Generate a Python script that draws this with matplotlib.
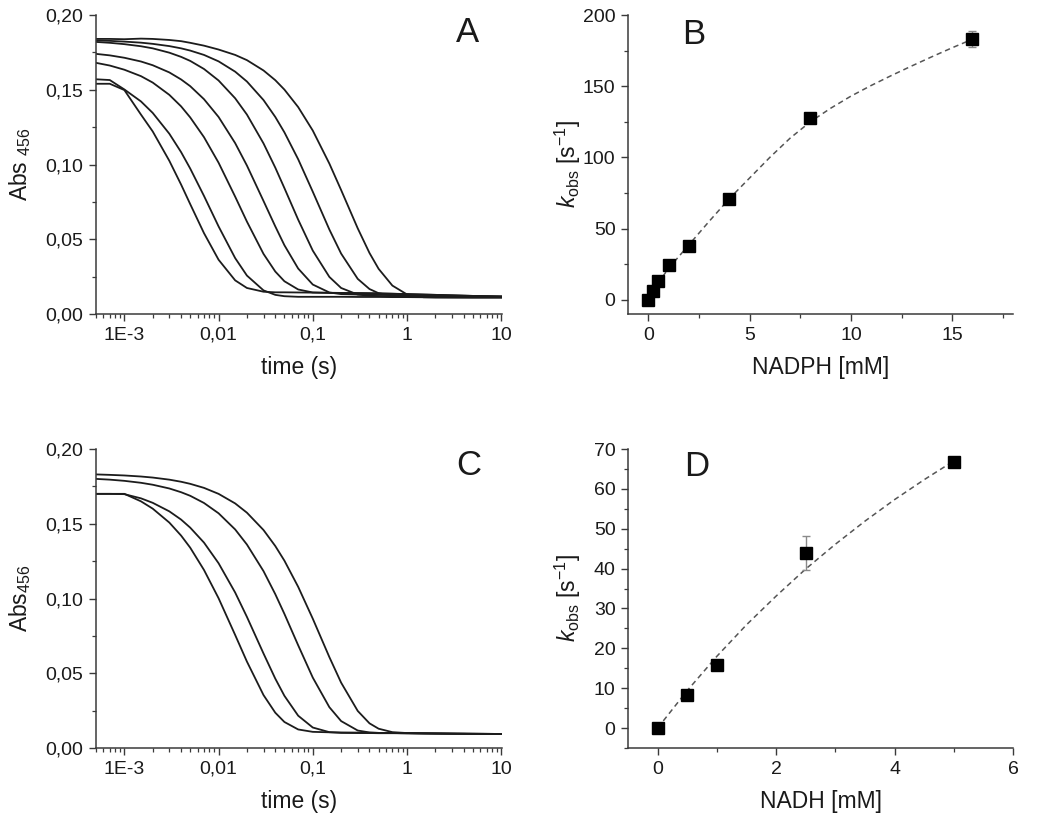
import numpy as np
import matplotlib
matplotlib.use("Agg")
import matplotlib.pyplot as plt
from matplotlib.ticker import FixedLocator, FixedFormatter, MultipleLocator, LogLocator, NullFormatter

# ----------------------------------------------------------
# fonts
# ----------------------------------------------------------
plt.rcParams['font.family'] = ['Liberation Sans', 'DejaVu Sans']
plt.rcParams['mathtext.fontset'] = 'custom'
plt.rcParams['mathtext.rm'] = 'Liberation Sans'
plt.rcParams['mathtext.it'] = 'Liberation Sans:italic'
plt.rcParams['mathtext.bf'] = 'Liberation Sans:bold'

# ----------------------------------------------------------
# data: stopped-flow traces (time in s, Abs456)
# ----------------------------------------------------------
time_s = [0.0005, 0.0007, 0.001, 0.0015, 0.002, 0.003, 0.004, 0.005, 0.007, 0.01,
          0.015, 0.02, 0.03, 0.04, 0.05, 0.07, 0.1, 0.15, 0.2, 0.3,
          0.4, 0.5, 0.7, 1.0, 1.5, 2.0, 3.0, 5.0, 10.0]

# panel A (NADPH), fastest -> slowest
nadph_trace_1 = [0.154, 0.154, 0.1498, 0.1334, 0.1221, 0.1025, 0.0866, 0.0735, 0.0541, 0.0363,
                 0.0225, 0.0174, 0.0149, 0.0145, 0.0145, 0.0144, 0.0143, 0.0142, 0.0141, 0.0140,
                 0.0139, 0.0138, 0.0136, 0.0133, 0.0130, 0.0128, 0.0125, 0.0121, 0.0117]
nadph_trace_2 = [0.157, 0.1565, 0.1502, 0.1422, 0.1345, 0.1206, 0.1083, 0.0973, 0.0790, 0.0586,
                 0.0374, 0.0257, 0.0158, 0.0128, 0.0119, 0.0115, 0.0115, 0.0115, 0.0115, 0.0114,
                 0.0114, 0.0114, 0.0113, 0.0113, 0.0112, 0.0112, 0.0111, 0.0110, 0.0110]
nadph_trace_3 = [0.168, 0.1662, 0.1634, 0.1591, 0.1548, 0.1466, 0.1389, 0.1315, 0.1183, 0.1012,
                 0.0785, 0.0618, 0.0402, 0.0284, 0.0219, 0.0164, 0.0144, 0.0141, 0.0140, 0.0139,
                 0.0138, 0.0137, 0.0135, 0.0133, 0.0130, 0.0128, 0.0125, 0.0121, 0.0117]
nadph_trace_4 = [0.174, 0.1730, 0.1714, 0.1689, 0.1664, 0.1616, 0.1569, 0.1524, 0.1437, 0.1318,
                 0.1143, 0.0993, 0.0756, 0.0586, 0.0460, 0.0304, 0.0197, 0.0144, 0.0133, 0.0130,
                 0.0129, 0.0128, 0.0127, 0.0125, 0.0123, 0.0122, 0.0120, 0.0118, 0.0116]
nadph_trace_5 = [0.182, 0.1814, 0.1805, 0.1791, 0.1777, 0.1748, 0.1720, 0.1693, 0.1639, 0.1562,
                 0.1443, 0.1334, 0.1141, 0.0979, 0.0842, 0.0631, 0.0424, 0.0248, 0.0174, 0.0130,
                 0.0122, 0.0120, 0.0119, 0.0119, 0.0118, 0.0118, 0.0117, 0.0116, 0.0115]
nadph_trace_6 = [0.183, 0.1827, 0.1822, 0.1815, 0.1807, 0.1792, 0.1777, 0.1762, 0.1733, 0.1690,
                 0.1621, 0.1555, 0.1431, 0.1318, 0.1215, 0.1035, 0.0818, 0.0565, 0.0404, 0.0235,
                 0.0167, 0.0139, 0.0123, 0.0120, 0.0119, 0.0118, 0.0117, 0.0116, 0.0115]
nadph_trace_7 = [0.184, 0.1840, 0.1838, 0.1842, 0.1840, 0.1833, 0.1825, 0.1814, 0.1795, 0.1769,
                 0.1733, 0.1698, 0.1629, 0.1564, 0.1501, 0.1384, 0.1227, 0.1006, 0.0829, 0.0573,
                 0.0408, 0.0302, 0.0190, 0.0131, 0.0112, 0.0110, 0.0110, 0.0110, 0.0110]

# panel C (NADH), fastest -> slowest
nadh_trace_1 = [0.170, 0.170, 0.170, 0.1650, 0.1601, 0.1508, 0.1421, 0.1340, 0.1191, 0.1002,
                0.0756, 0.0578, 0.0354, 0.0236, 0.0174, 0.0124, 0.0108, 0.0105, 0.0104, 0.0103,
                0.0102, 0.0101, 0.0100, 0.0099, 0.0098, 0.0097, 0.0096, 0.0095, 0.0094]
nadh_trace_2 = [0.170, 0.170, 0.1698, 0.1670, 0.1640, 0.1583, 0.1528, 0.1474, 0.1374, 0.1236,
                0.1040, 0.0877, 0.0632, 0.0464, 0.0349, 0.0216, 0.0137, 0.0106, 0.0101, 0.0100,
                0.0100, 0.0099, 0.0099, 0.0098, 0.0097, 0.0097, 0.0096, 0.0095, 0.0094]
nadh_trace_3 = [0.180, 0.1795, 0.1787, 0.1774, 0.1761, 0.1736, 0.1711, 0.1687, 0.1639, 0.1570,
                0.1462, 0.1361, 0.1183, 0.1029, 0.0897, 0.0687, 0.0471, 0.0273, 0.0180, 0.0117,
                0.0104, 0.0101, 0.0100, 0.0099, 0.0098, 0.0097, 0.0096, 0.0095, 0.0094]
nadh_trace_4 = [0.183, 0.1827, 0.1823, 0.1816, 0.1809, 0.1795, 0.1781, 0.1767, 0.1740, 0.1700,
                0.1636, 0.1574, 0.1458, 0.1351, 0.1253, 0.1078, 0.0865, 0.0608, 0.0437, 0.0248,
                0.0165, 0.0129, 0.0106, 0.0100, 0.0098, 0.0097, 0.0096, 0.0095, 0.0094]

# panel B: kobs vs NADPH
nadph_mM = [0, 0.25, 0.5, 1, 2, 4, 8, 16]
kobs_nadph = [0, 6.3, 13.3, 24.6, 38, 71, 128, 183]
kobs_nadph_err = [0, 0, 0, 0, 0, 0, 0, 5.5]
fit_nadph_x = [0, 0.5, 1, 2, 3, 4, 5, 6, 7, 8, 9, 10, 11, 12, 13, 14, 15, 16]
fit_nadph_y = [0, 12, 22, 38.5, 55, 71, 85.5, 100, 113.5, 125, 134.5, 143, 150.5, 157.5, 164.2, 170.7, 177, 183]

# panel D: kobs vs NADH
nadh_mM = [0, 0.5, 1, 2.5, 5]
kobs_nadh = [0, 8.3, 15.8, 43.9, 66.7]
kobs_nadh_err = [0, 0, 0, 4.2, 0]
fit_nadh_x = [0, 0.5, 1, 1.5, 2, 2.5, 3, 3.5, 4, 4.5, 5]
fit_nadh_y = [0, 9.4, 18.0, 25.9, 33.1, 39.9, 46.1, 51.9, 57.3, 62.3, 67.0]

# ----------------------------------------------------------
# figure
# ----------------------------------------------------------
W, H = 1050, 816
fig = plt.figure(figsize=(W / 100, H / 100), dpi=100)

def box(x0, x1, y0, y1):
    return [x0 / W, 1 - y1 / H, (x1 - x0) / W, (y1 - y0) / H]

ax_a = fig.add_axes(box(96, 502, 15, 314))
ax_b = fig.add_axes(box(628, 1013, 15, 314))
ax_c = fig.add_axes(box(96, 502, 449, 748))
ax_d = fig.add_axes(box(628, 1013, 449, 748))

AX_COL = '#3a3a3a'
TXT_COL = '#1a1a1a'

for ax in (ax_a, ax_b, ax_c, ax_d):
    for s in ('top', 'right'):
        ax.spines[s].set_visible(False)
    for s in ('left', 'bottom'):
        ax.spines[s].set_color(AX_COL)
        ax.spines[s].set_linewidth(1.1)
    ax.tick_params(which='major', direction='out', length=5, width=1.0, color=AX_COL,
                   labelsize=14, labelcolor=TXT_COL, pad=4)
    ax.tick_params(which='minor', direction='out', length=3, width=0.9, color=AX_COL)

# ---- kinetic traces (A, C)
abs_ticks = [0.0, 0.05, 0.10, 0.15, 0.20]
abs_labels = ['0,00', '0,05', '0,10', '0,15', '0,20']
time_ticks = [1e-3, 1e-2, 1e-1, 1, 10]
time_labels = ['1E-3', '0,01', '0,1', '1', '10']

traces_a = [nadph_trace_1, nadph_trace_2, nadph_trace_3, nadph_trace_4,
            nadph_trace_5, nadph_trace_6, nadph_trace_7]
traces_c = [nadh_trace_1, nadh_trace_2, nadh_trace_3, nadh_trace_4]

for ax, traces, ylab in ((ax_a, traces_a, r'Abs$\ {}_{456}$'),
                         (ax_c, traces_c, r'Abs$_{456}$')):
    for tr in traces:
        ax.plot(time_s, tr, color='#1c1c1c', lw=1.3)
    ax.set_xscale('log')
    ax.set_xlim(5e-4, 10.2)
    ax.set_ylim(0, 0.20)
    ax.xaxis.set_major_locator(FixedLocator(time_ticks))
    ax.xaxis.set_major_formatter(FixedFormatter(time_labels))
    ax.xaxis.set_minor_locator(LogLocator(base=10, subs=np.arange(2, 10), numticks=20))
    ax.xaxis.set_minor_formatter(NullFormatter())
    ax.yaxis.set_major_locator(FixedLocator(abs_ticks))
    ax.yaxis.set_major_formatter(FixedFormatter(abs_labels))
    ax.yaxis.set_minor_locator(MultipleLocator(0.025))
    ax.set_xlabel('time (s)', fontsize=16.5, color=TXT_COL)
    ax.set_ylabel(ylab, fontsize=16.5, color=TXT_COL)
    ax.xaxis.set_label_coords(0.5, -0.14)
    ax.yaxis.set_label_coords(-0.155, 0.5)

# ---- kobs plots (B, D)
for ax, x, y, err, fx, fy, xlab in ((ax_b, nadph_mM, kobs_nadph, kobs_nadph_err,
                                     fit_nadph_x, fit_nadph_y, 'NADPH [mM]'),
                                    (ax_d, nadh_mM, kobs_nadh, kobs_nadh_err,
                                     fit_nadh_x, fit_nadh_y, 'NADH [mM]')):
    ax.plot(fx, fy, color='#555555', lw=1.1, ls=(0, (3.5, 2.5)), zorder=2)
    ax.errorbar(x, y, yerr=err, fmt='none', ecolor='#8a8a8a', elinewidth=1.0,
                capsize=3, capthick=1.0, zorder=3)
    ax.plot(x, y, ls='none', marker='s', ms=8.5, color='black', mec='black', zorder=4)
    ax.set_xlabel(xlab, fontsize=16.5, color=TXT_COL)
    ax.set_ylabel(r'$k_{\mathrm{obs}}$ [s$^{-1}$]', fontsize=16.5, color=TXT_COL)
    ax.xaxis.set_label_coords(0.5, -0.14)
    ax.yaxis.set_label_coords(-0.117, 0.5)

ax_b.set_xlim(-1, 18)
ax_b.set_ylim(-10, 200)
ax_b.xaxis.set_major_locator(FixedLocator([0, 5, 10, 15]))
ax_b.xaxis.set_minor_locator(FixedLocator([2.5, 7.5, 12.5, 17.5]))
ax_b.yaxis.set_major_locator(FixedLocator([0, 50, 100, 150, 200]))
ax_b.yaxis.set_minor_locator(FixedLocator([25, 75, 125, 175]))

ax_d.set_xlim(-0.5, 6)
ax_d.set_ylim(-5, 70)
ax_d.xaxis.set_major_locator(FixedLocator([0, 2, 4, 6]))
ax_d.xaxis.set_minor_locator(FixedLocator([1, 3, 5]))
ax_d.yaxis.set_major_locator(FixedLocator([0, 10, 20, 30, 40, 50, 60, 70]))
ax_d.yaxis.set_minor_locator(FixedLocator([-5, 5, 15, 25, 35, 45, 55, 65]))

# ---- panel letters
for ax, letter, px, py in ((ax_a, 'A', 0.916, 0.943), (ax_b, 'B', 0.171, 0.936),
                           (ax_c, 'C', 0.919, 0.946), (ax_d, 'D', 0.179, 0.94)):
    ax.text(px, py, letter, transform=ax.transAxes, fontsize=25, color=TXT_COL,
            ha='center', va='center')

fig.savefig('out.png', dpi=100, facecolor='white')
